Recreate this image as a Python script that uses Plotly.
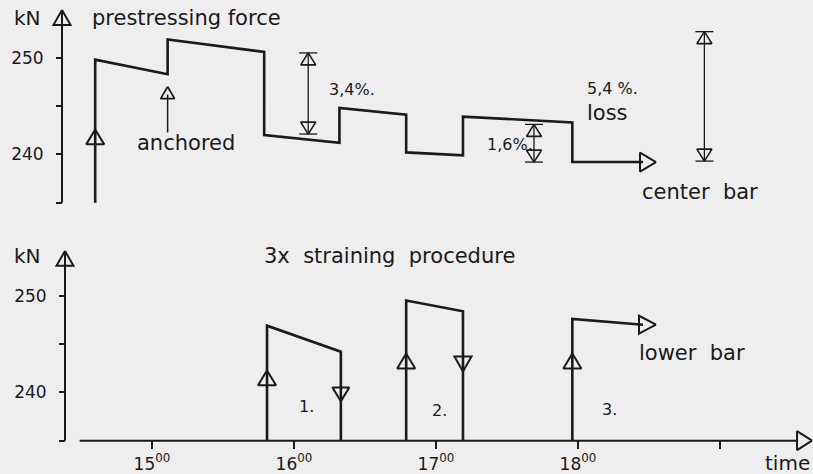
import plotly.graph_objects as go

# ---------------------------------------------------------------
# Prestressing force of the centre bar while the lower bar is
# strained three times (time in hours, force in kN)
# ---------------------------------------------------------------
center_time = [14.60, 14.60, 15.11, 15.11, 15.79, 15.79, 16.32, 16.32,
               16.79, 16.79, 17.19, 17.19, 17.96, 17.96, 18.50]
center_force = [235.0, 249.8, 248.3, 251.9, 250.6, 242.0, 241.2, 244.8,
                244.1, 240.2, 239.9, 243.9, 243.3, 239.2, 239.2]

# lower bar: three straining cycles
lower1_time = [15.81, 15.81, 16.33, 16.33]
lower1_force = [235.0, 246.9, 244.2, 235.0]
lower2_time = [16.79, 16.79, 17.19, 17.19]
lower2_force = [235.0, 249.5, 248.4, 235.0]
lower3_time = [17.96, 17.96, 18.50]
lower3_force = [235.0, 247.6, 247.0]

# loss brackets on the centre bar: time, upper and lower level
bracket_time = [16.10, 17.69, 18.89]
bracket_top = [250.5, 243.1, 252.7]
bracket_bottom = [242.1, 239.2, 239.3]

# axis ticks
time_ticks = [15, 16, 17, 18]
time_labels = ["15<sup>00</sup>", "16<sup>00</sup>", "17<sup>00</sup>", "18<sup>00</sup>"]
time_minor = [19]
force_ticks = [240, 250]
force_labels = ["240", "250"]
force_minor = [235, 245]
force_base = 235.0

# ---------------------------------------------------------------
# layout geometry
# ---------------------------------------------------------------
W, H = 813, 474
X_RANGE = [13.9296, 19.6549]
Y1_RANGE = [207.113, 255.979]   # upper diagram (centre bar)
Y2_RANGE = [231.753, 280.619]   # lower diagram (lower bar)
PX_PER_H = W / (X_RANGE[1] - X_RANGE[0])
PX_PER_KN = H / (Y1_RANGE[1] - Y1_RANGE[0])

Y1_POS = 62 / W
Y2_POS = 65 / W
X_POS = (H - 442) / H

INK = "#1a1a1a"
BG = "#eeeeee"
FONT = "DejaVu Sans"


def paper_to_t(p):
    return X_RANGE[0] + p * (X_RANGE[1] - X_RANGE[0])


def triangle(t, v, direction, length=15, breadth=17):
    """Open arrow head with its tip at (t, v); sizes in pixels."""
    dl_v = length / PX_PER_KN
    db_v = breadth / 2 / PX_PER_KN
    dl_t = length / PX_PER_H
    db_t = breadth / 2 / PX_PER_H
    if direction == "up":
        xs = [t, t - db_t, t + db_t, t]
        ys = [v, v - dl_v, v - dl_v, v]
    elif direction == "down":
        xs = [t, t - db_t, t + db_t, t]
        ys = [v, v + dl_v, v + dl_v, v]
    else:  # right
        xs = [t, t - dl_t, t - dl_t, t]
        ys = [v, v + db_v, v - db_v, v]
    return xs, ys


def add_heads(fig, heads, yaxis, width=2):
    xs, ys = [], []
    for h in heads:
        tx, ty = triangle(*h)
        xs += tx + [None]
        ys += ty + [None]
    fig.add_trace(go.Scatter(x=xs, y=ys, mode="lines", yaxis=yaxis,
                             line=dict(color=INK, width=width),
                             hoverinfo="skip", showlegend=False))


def add_line(fig, xs, ys, yaxis, width=2.6):
    fig.add_trace(go.Scatter(x=xs, y=ys, mode="lines", yaxis=yaxis,
                             line=dict(color=INK, width=width),
                             hoverinfo="skip", showlegend=False))


fig = go.Figure()

t_ax1 = paper_to_t(Y1_POS)
t_ax2 = paper_to_t(Y2_POS)

# ---- axis lines with open arrow heads
add_line(fig, [t_ax1, t_ax1], [force_base, 254.8], "y", width=2)
add_line(fig, [t_ax2, t_ax2], [force_base, 254.5], "y2", width=2)
add_line(fig, [14.49, 19.55], [force_base, force_base], "y2", width=2)
add_heads(fig, [(t_ax1, 254.95, "up", 15, 17)], "y")
add_heads(fig, [(t_ax2, 254.64, "up", 15, 17),
                (19.648, force_base, "right", 15, 19)], "y2")

# ---- centre bar curve
add_line(fig, center_time[:-1] + [center_time[-1] - 6 / PX_PER_H],
         center_force, "y")
add_heads(fig, [(center_time[0], 242.58, "up", 15, 18),
                (center_time[-1] + 7 / PX_PER_H, center_force[-1], "right", 16, 19)], "y")

# "anchored" pointer
add_line(fig, [center_time[2], center_time[2]], [242.27, 246.2], "y", width=1.5)
add_heads(fig, [(center_time[2], 247.0, "up", 12, 14)], "y", width=1.7)

# loss brackets
cap = 9 / PX_PER_H
for bt, top, bot in zip(bracket_time, bracket_top, bracket_bottom):
    add_line(fig, [bt - cap, bt + cap, None, bt, bt, None, bt - cap, bt + cap],
             [top, top, None, top, bot, None, bot, bot], "y", width=1.3)
    add_heads(fig, [(bt, top, "up", 12, 15), (bt, bot, "down", 12, 15)], "y", width=1.6)

# ---- lower bar curves
add_line(fig, lower1_time, lower1_force, "y2")
add_line(fig, lower2_time, lower2_force, "y2")
add_line(fig, lower3_time[:-1] + [lower3_time[-1] - 6 / PX_PER_H], lower3_force, "y2")
add_heads(fig, [(lower1_time[0], 242.27, "up", 15, 18),
                (lower1_time[-1], 239.07, "down", 14, 17),
                (lower2_time[0], 244.02, "up", 15, 18),
                (lower2_time[-1], 242.16, "down", 15, 17),
                (lower3_time[0], 244.02, "up", 15, 18),
                (lower3_time[-1] + 7 / PX_PER_H, lower3_force[-1], "right", 17, 18)], "y2")

# ---- text
labels = [
    ("kN", 14.12, 254.12, "y", "center", 20),
    ("prestressing force", 14.563, 254.12, "y", "left", 21),
    ("anchored", 14.88, 241.13, "y", "left", 21),
    ("3,4%.", 16.232, 246.70, "y", "left", 16),
    ("1,6%.", 17.345, 241.03, "y", "left", 16),
    ("5,4 %.", 18.049, 246.80, "y", "left", 16),
    ("loss", 18.049, 244.33, "y", "left", 21),
    ("center  bar", 18.437, 236.08, "y", "left", 21),
    ("kN", 14.12, 254.12, "y2", "center", 20),
    ("3x  straining  procedure", 15.775, 254.12, "y2", "left", 21),
    ("lower  bar", 18.415, 244.12, "y2", "left", 21),
    ("1.", 16.02, 238.56, "y2", "left", 16),
    ("2.", 16.958, 238.14, "y2", "left", 16),
    ("3.", 18.155, 238.25, "y2", "left", 16),
    ("time", 19.645, 232.68, "y2", "right", 20),
]
for text, tx, ty, ax, anchor, size in labels:
    fig.add_annotation(x=tx, y=ty, xref="x", yref=ax, text=text,
                       showarrow=False, xanchor=anchor, yanchor="middle",
                       font=dict(family=FONT, size=size, color=INK))

axis_font = dict(family=FONT, size=17, color=INK)
y_common = dict(domain=[0, 1], anchor="free",
                tickmode="array", tickvals=force_ticks, ticktext=force_labels,
                ticks="outside", ticklen=6, tickwidth=1.5, tickcolor=INK,
                minor=dict(tickmode="array", tickvals=force_minor, ticks="outside",
                           ticklen=6, tickwidth=1.5, tickcolor=INK, showgrid=False),
                ticklabelstandoff=9,
                showline=False, showgrid=False, zeroline=False,
                tickfont=axis_font, fixedrange=True)

fig.update_layout(
    width=W, height=H,
    margin=dict(l=0, r=0, t=0, b=0),
    paper_bgcolor=BG, plot_bgcolor=BG,
    showlegend=False,
    xaxis=dict(range=X_RANGE, domain=[0, 1], anchor="free", position=X_POS,
               tickmode="array", tickvals=time_ticks, ticktext=time_labels,
               ticks="outside", ticklen=8, tickwidth=1.6, tickcolor=INK,
               minor=dict(tickmode="array", tickvals=time_minor, ticks="outside",
                          ticklen=8, tickwidth=1.6, tickcolor=INK, showgrid=False),
               showline=False, showgrid=False, zeroline=False,
               tickfont=axis_font, fixedrange=True),
    yaxis=dict(range=Y1_RANGE, position=Y1_POS, **y_common),
    yaxis2=dict(range=Y2_RANGE, position=Y2_POS, overlaying="y", **y_common),
)

fig.write_html("out.html")
